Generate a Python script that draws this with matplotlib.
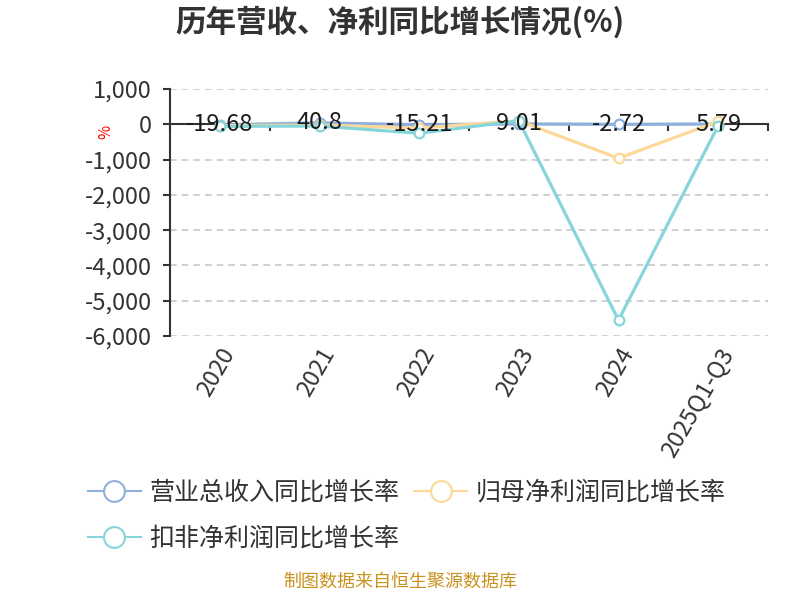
import matplotlib.pyplot as plt
from matplotlib.lines import Line2D
from matplotlib.ticker import FuncFormatter, MultipleLocator

plt.rcParams['font.family'] = ['Noto Sans CJK SC', 'DejaVu Sans']

# 数据
years = ['2020', '2021', '2022', '2023', '2024', '2025Q1-Q3']
revenue = [-19.68, 40.8, -15.21, 9.01, -2.72, 5.79]
net_profit = [-40, -20, -110, 100, -963, 80]
deducted = [-60, -50, -255, 100, -5550, -40]

names = ['营业总收入同比增长率', '归母净利润同比增长率', '扣非净利润同比增长率']
colors = ['#8FB0DE', '#FDD898', '#86D5DA']

fig = plt.figure(figsize=(8, 6), dpi=100)
ax = fig.add_axes([0.2125, 0.44, 0.7475, 0.4117])

x = list(range(len(years)))
series = [revenue, net_profit, deducted]
for i, (vals, name, c) in enumerate(zip(series, names, colors)):
    ax.plot(x, vals, color=c, lw=2.3, marker='o', markersize=7,
            markerfacecolor='white', markeredgecolor=c, markeredgewidth=1.6,
            label=name, zorder=3 + i)

# 营收标签
for xi, v in zip(x, revenue):
    ax.text(xi, v, f'{v:g}', ha='center', va='center', fontsize=17,
            color='#1a1a1a', zorder=10)

ax.set_xlim(-0.5, len(years) - 0.5)
ax.set_ylim(-6000, 1000)
ax.yaxis.set_major_locator(MultipleLocator(1000))
ax.yaxis.set_major_formatter(FuncFormatter(lambda v, p: f'{int(v):,}'))
ax.grid(axis='y', color='#c8c8c8', linestyle=(0, (4, 3)), lw=1.2)
ax.set_axisbelow(True)

for s in ['top', 'right', 'bottom']:
    ax.spines[s].set_visible(False)
ax.spines['left'].set_color('#333333')
ax.spines['left'].set_linewidth(1.5)
ax.axhline(0, color='#333333', lw=1.5, zorder=2)

# 类别边界刻度
for b in [i - 0.5 for i in range(len(years) + 1)]:
    ax.plot([b, b], [0, -160], color='#333333', lw=1.5, zorder=2, clip_on=False)

ax.set_xticks(x)
ax.set_xticklabels(years, rotation=60, ha='right', va='top', rotation_mode='anchor')
ax.tick_params(axis='x', length=0, labelsize=17, colors='#333333', pad=6)
ax.tick_params(axis='y', length=5, width=1.5, labelsize=17, colors='#333333', pad=8)

fig.text(0.132, 0.78, '%', color='red', fontsize=11, rotation=90, ha='center', va='center')

fig.text(0.5, 0.963, '历年营收、净利同比增长情况(%)', ha='center', va='center',
         fontsize=22, fontweight='bold', color='#333333')

# 图例：按行排列
order = [0, 2, 1]
handles = [Line2D([], [], color=colors[k], lw=1.5, marker='o', markersize=15,
                  markerfacecolor='white', markeredgecolor=colors[k],
                  markeredgewidth=1.5) for k in order]
fig.legend(handles, [names[k] for k in order],
           loc='upper left', bbox_to_anchor=(0.11, 0.2), ncol=2,
           frameon=False, fontsize=18, handlelength=2.1, columnspacing=0.6,
           labelspacing=0.8, handletextpad=0.35, labelcolor='#333333',
           borderpad=0, borderaxespad=0, bbox_transform=fig.transFigure)

fig.text(0.5, 0.015, '制图数据来自恒生聚源数据库', ha='center', va='bottom',
         fontsize=13, color='#C9921E')

fig.savefig('out.png', dpi=100)
